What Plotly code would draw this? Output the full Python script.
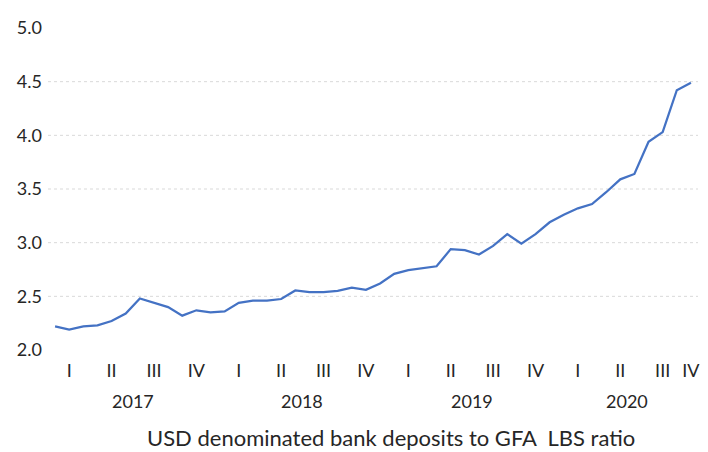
import plotly.graph_objects as go

# monthly ratio, Jan 2017 - Oct 2020
ratio = [2.22, 2.19, 2.22, 2.23, 2.27, 2.34, 2.48, 2.44, 2.40, 2.32, 2.37, 2.35,
         2.36, 2.44, 2.46, 2.46, 2.475, 2.555, 2.54, 2.54, 2.55, 2.58, 2.56, 2.62,
         2.71, 2.745, 2.76, 2.78, 2.94, 2.93, 2.89, 2.97, 3.08, 2.99, 3.08, 3.19,
         3.26, 3.32, 3.36, 3.47, 3.59, 3.64, 3.94, 4.03, 4.42, 4.49]
months = list(range(len(ratio)))

quarter_pos = [1, 4, 7, 10, 13, 16, 19, 22, 25, 28, 31, 34, 37, 40, 43, 45]
quarter_labels = ["I", "II", "III", "IV"] * 4
years = ["2017", "2018", "2019", "2020"]
year_pos = [5.5, 17.5, 29.5, 40.5]
grid_levels = [2.5, 3.0, 3.5, 4.0, 4.5]

FONT = "Lato"
TXT = "#262626"

fig = go.Figure()
fig.add_trace(go.Scatter(x=months, y=ratio, mode="lines",
                         line=dict(color="#4472C4", width=2.25), hoverinfo="skip"))

for g in grid_levels:
    fig.add_shape(type="line", xref="paper", yref="y", x0=0, x1=1, y0=g, y1=g,
                  line=dict(color="#D9D9D9", width=1, dash="dot"), layer="below")

for yr, xp in zip(years, year_pos):
    fig.add_annotation(x=xp, y=-0.158, xref="x", yref="paper", text=yr, showarrow=False,
                       font=dict(family=FONT, size=18, color=TXT), yanchor="middle")

fig.add_annotation(x=0.528, y=-0.271, xref="paper", yref="paper",
                   text="USD denominated bank deposits to GFA\u00a0 LBS ratio", showarrow=False,
                   font=dict(family=FONT, size=22, color=TXT), yanchor="middle", borderpad=0)

# page body adds an 8px offset, so the figure is sized to the visible area
fig.update_layout(
    width=700, height=444,
    margin=dict(l=40, r=8, t=17, b=102),
    plot_bgcolor="white", paper_bgcolor="white",
    showlegend=False,
    font=dict(family=FONT, size=18, color=TXT),
)
fig.update_xaxes(range=[-0.5, 45.5], tickvals=quarter_pos, ticktext=quarter_labels,
                 showgrid=False, zeroline=False, showline=False, ticks="",
                 ticklabelstandoff=8,
                 tickfont=dict(family=FONT, size=18, color=TXT))
fig.update_yaxes(range=[2, 5], tickvals=[2, 2.5, 3, 3.5, 4, 4.5, 5], tickformat=".1f",
                 showgrid=False, zeroline=False, showline=False, ticks="",
                 ticklabelstandoff=5,
                 tickfont=dict(family=FONT, size=18, color=TXT))

fig.write_html("out.html")
